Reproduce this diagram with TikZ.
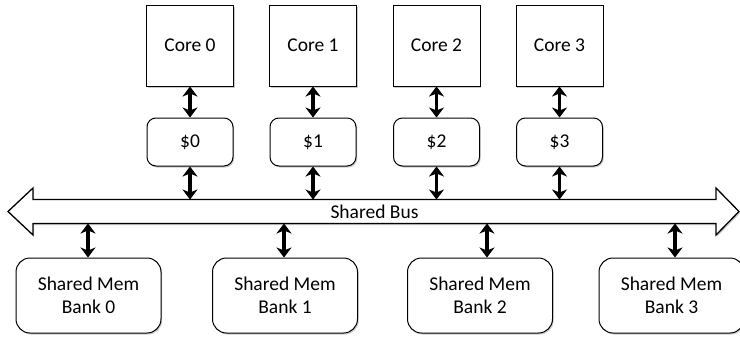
\documentclass[tikz,border=0pt]{standalone}
\usepackage{fontspec}
\setmainfont{Carlito}
\usetikzlibrary{arrows.meta,shadows}
\begin{document}
\begin{tikzpicture}[x=1pt,y=-1pt,
  shad/.style={drop shadow={opacity=0.35,shadow xshift=1.2pt,shadow yshift=-1.5pt,fill=black!60}},
  corebox/.style={draw,line width=1pt,fill=white,shad,minimum width=87pt,minimum height=81pt,font=\fontsize{19.5}{22}\selectfont,inner sep=0pt},
  cachebox/.style={draw,line width=1pt,fill=white,shad,rounded corners=9pt,minimum width=86pt,minimum height=48pt,font=\fontsize{19.5}{22}\selectfont,inner sep=0pt},
  bankbox/.style={draw,line width=1pt,fill=white,shad,rounded corners=14pt,minimum width=145pt,minimum height=75pt,font=\fontsize{19.5}{23}\selectfont,align=center,inner sep=0pt},
  dbl/.style={line width=3.2pt,{Stealth[length=10pt,width=15pt,inset=3pt]}-{Stealth[length=10pt,width=15pt,inset=3pt]}}
]
\useasboundingbox (0,0) rectangle (740,338);
% cores
\node[corebox] (c0) at (190,45.5) {Core 0};
\node[corebox] (c1) at (313,45.5) {Core 1};
\node[corebox] (c2) at (436.5,45.5) {Core 2};
\node[corebox] (c3) at (559.5,45.5) {Core 3};
% caches
\node[cachebox] (k0) at (190,142) {\$0};
\node[cachebox] (k1) at (313,142) {\$1};
\node[cachebox] (k2) at (436.5,142) {\$2};
\node[cachebox] (k3) at (559.5,142) {\$3};
% bus
\draw[line width=1.3pt,fill=white,shad] (8,211.5) -- (33,188) -- (33,199.5) -- (716,199.5) -- (716,188) -- (739,211.5) -- (716,235) -- (716,223.5) -- (33,223.5) -- (33,235) -- cycle;
\node[font=\fontsize{19.5}{22}\selectfont,inner sep=0pt] (bus) at (374.5,212) {Shared Bus};
\coordinate (bt) at (374,199.5);
\coordinate (bb) at (374,223.5);
% banks
\node[bankbox] (m0) at (88.5,295.5) {Shared Mem\\Bank 0};
\node[bankbox] (m1) at (285,295.5) {Shared Mem\\Bank 1};
\node[bankbox] (m2) at (480,295.5) {Shared Mem\\Bank 2};
\node[bankbox] (m3) at (671.5,295.5) {Shared Mem\\Bank 3};
% arrows core-cache and cache-bus
\foreach \i in {0,1,2,3}{
  \draw[dbl] (c\i.south) -- (k\i.north);
  \draw[dbl] (k\i.south) -- (k\i.south |- bt);
}
% arrows bus-bank
\coordinate (a0) at (88,223.5);
\coordinate (a1) at (284,223.5);
\coordinate (a2) at (487,223.5);
\coordinate (a3) at (675,223.5);
\foreach \i in {0,1,2,3}{
  \draw[dbl] (a\i) -- (a\i |- m\i.north);
}
\end{tikzpicture}
\end{document}
